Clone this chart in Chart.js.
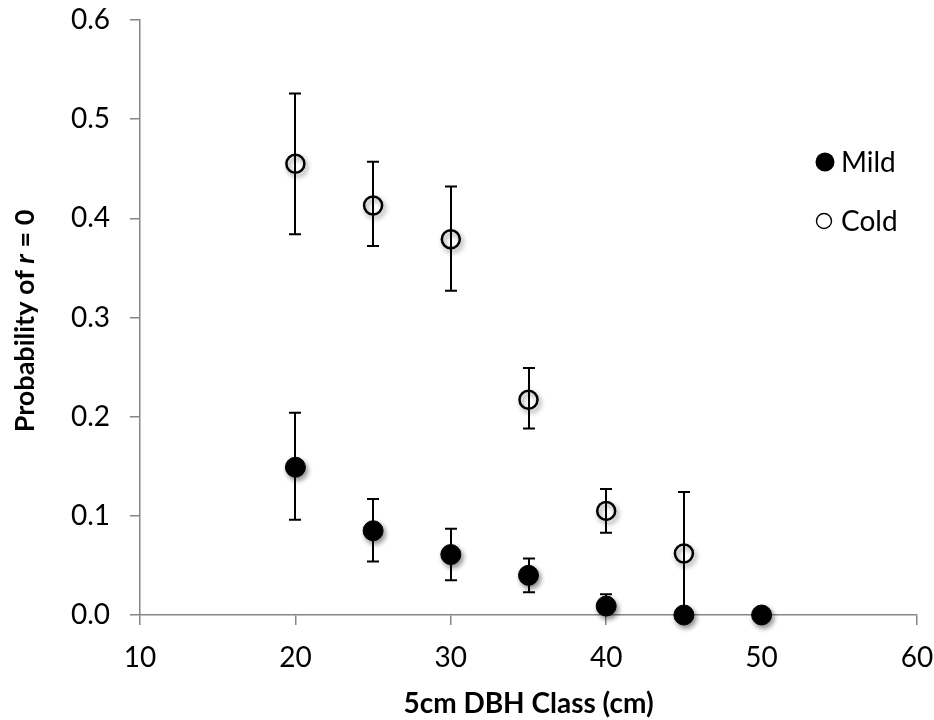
<!DOCTYPE html>
<html>
<head>
<meta charset="utf-8">
<script src="https://cdn.jsdelivr.net/npm/chart.js@4/dist/chart.umd.min.js"></script>
<style>
  html, body { margin: 0; padding: 0; background: #fff; }
  #wrap { position: relative; width: 934px; height: 720px; }
</style>
</head>
<body>
<div id="wrap"><canvas id="c" width="934" height="720"></canvas></div>
<script>
// ---- data ----
const dbhClasses   = [20, 25, 30, 35, 40, 45, 50];
const mildValues   = [0.149, 0.085, 0.061, 0.040, 0.009, 0.000, 0.000];
const mildUpper    = [0.204, 0.117, 0.087, 0.057, 0.021, 0.000, 0.000];
const mildLower    = [0.096, 0.054, 0.035, 0.023, 0.000, 0.000, 0.000];
const coldClasses  = [20, 25, 30, 35, 40, 45];
const coldValues   = [0.455, 0.413, 0.379, 0.217, 0.105, 0.062];
const coldUpper    = [0.526, 0.457, 0.432, 0.249, 0.127, 0.124];
const coldLower    = [0.384, 0.372, 0.327, 0.188, 0.083, 0.000];
const seriesNames  = ['Mild', 'Cold'];
const xTitle = '5cm DBH Class (cm)';
const yTitleParts = [['Probability of ', false], ['r', true], [' = 0', false]];

const FONT = 'Lato, "Open Sans", sans-serif';
const AXIS_COLOR = '#868686';

function pts(xs, ys) { return xs.map((x, i) => ({ x: x, y: ys[i] })); }

const errorBars = {
  id: 'errorBars',
  beforeDatasetsDraw(chart) {
    const ctx = chart.ctx, xs = chart.scales.x, ys = chart.scales.y;
    const sets = [
      [dbhClasses, mildUpper, mildLower],
      [coldClasses, coldUpper, coldLower]
    ];
    ctx.save();
    ctx.strokeStyle = '#000';
    ctx.lineWidth = 2;
    sets.forEach(([xv, up, lo]) => {
      xv.forEach((x, i) => {
        if (up[i] === lo[i]) return;
        const px = Math.round(xs.getPixelForValue(x));
        const pu = ys.getPixelForValue(up[i]);
        const pl = ys.getPixelForValue(lo[i]);
        ctx.beginPath();
        ctx.moveTo(px, pu); ctx.lineTo(px, pl);
        ctx.moveTo(px - 6, pu); ctx.lineTo(px + 6, pu);
        if (lo[i] > 0) { ctx.moveTo(px - 6, pl); ctx.lineTo(px + 6, pl); }
        ctx.stroke();
      });
    });
    ctx.restore();
  },
  beforeDatasetDraw(chart) {
    const ctx = chart.ctx;
    ctx.save();
    ctx.shadowColor = 'rgba(0,0,0,0.45)';
    ctx.shadowBlur = 5;
    ctx.shadowOffsetX = 2;
    ctx.shadowOffsetY = 3;
  },
  afterDatasetDraw(chart) {
    chart.ctx.restore();
  }
};

const extras = {
  id: 'extras',
  afterDraw(chart) {
    const ctx = chart.ctx;
    const ca = chart.chartArea;
    ctx.save();
    ctx.fillStyle = '#000';
    // x title
    ctx.font = 'bold 28px ' + FONT;
    ctx.textAlign = 'center';
    ctx.textBaseline = 'middle';
    ctx.fillText(xTitle, (ca.left + ca.right) / 2, 704);
    // y title with italic r
    ctx.translate(25, 321);
    ctx.rotate(-Math.PI / 2);
    const fonts = yTitleParts.map(p => (p[1] ? 'italic bold 27px ' : 'bold 27px ') + FONT);
    let total = 0;
    const widths = yTitleParts.map((p, i) => { ctx.font = fonts[i]; const w = ctx.measureText(p[0]).width; total += w; return w; });
    let x = -total / 2;
    ctx.textAlign = 'left';
    yTitleParts.forEach((p, i) => { ctx.font = fonts[i]; ctx.fillText(p[0], x, 0); x += widths[i]; });
    ctx.restore();

    // legend
    ctx.save();
    ctx.font = '28px ' + FONT;
    ctx.textBaseline = 'middle';
    ctx.textAlign = 'left';
    ctx.fillStyle = '#000';
    ctx.beginPath(); ctx.arc(825, 162, 9.5, 0, Math.PI * 2); ctx.fill();
    ctx.fillText(seriesNames[0], 841, 163);
    ctx.strokeStyle = '#000'; ctx.lineWidth = 1.4;
    ctx.beginPath(); ctx.arc(824, 221, 7.5, 0, Math.PI * 2); ctx.stroke();
    ctx.fillText(seriesNames[1], 841, 222);
    ctx.restore();
  }
};

new Chart(document.getElementById('c'), {
  type: 'scatter',
  data: {
    datasets: [
      {
        label: seriesNames[0],
        data: pts(dbhClasses, mildValues),
        pointRadius: 10,
        pointHoverRadius: 10,
        pointBackgroundColor: '#000',
        pointBorderColor: '#000',
        pointBorderWidth: 1,
        clip: false
      },
      {
        label: seriesNames[1],
        data: pts(coldClasses, coldValues),
        pointRadius: 9,
        pointHoverRadius: 9,
        pointBackgroundColor: 'rgba(0,0,0,0)',
        pointBorderColor: '#000',
        pointBorderWidth: 2.5,
        clip: false
      }
    ]
  },
  options: {
    responsive: false,
    animation: false,
    events: [],
    layout: { padding: { left: 0, right: 17, top: 20, bottom: 0 } },
    plugins: { legend: { display: false }, tooltip: { enabled: false } },
    scales: {
      x: {
        type: 'linear', min: 10, max: 60,
        afterFit(s) { s.height = 105; s.paddingLeft = 0; s.paddingRight = 0; },
        ticks: { stepSize: 10, color: '#000', font: { family: FONT, size: 28 }, padding: 16, maxRotation: 0 },
        grid: { drawOnChartArea: false, drawTicks: true, tickLength: 10, color: AXIS_COLOR, lineWidth: 1.5 },
        border: { display: true, color: AXIS_COLOR, width: 1.5 }
      },
      y: {
        type: 'linear', min: 0, max: 0.6,
        afterFit(s) { s.width = 140; s.paddingTop = 0; s.paddingBottom = 0; },
        ticks: { stepSize: 0.1, color: '#000', font: { family: FONT, size: 28 }, padding: 20,
                 callback: v => Number(v).toFixed(1) },
        grid: { drawOnChartArea: false, drawTicks: true, tickLength: 10, color: AXIS_COLOR, lineWidth: 1.5 },
        border: { display: true, color: AXIS_COLOR, width: 1.5 }
      }
    }
  },
  plugins: [errorBars, extras]
});
</script>
</body>
</html>
